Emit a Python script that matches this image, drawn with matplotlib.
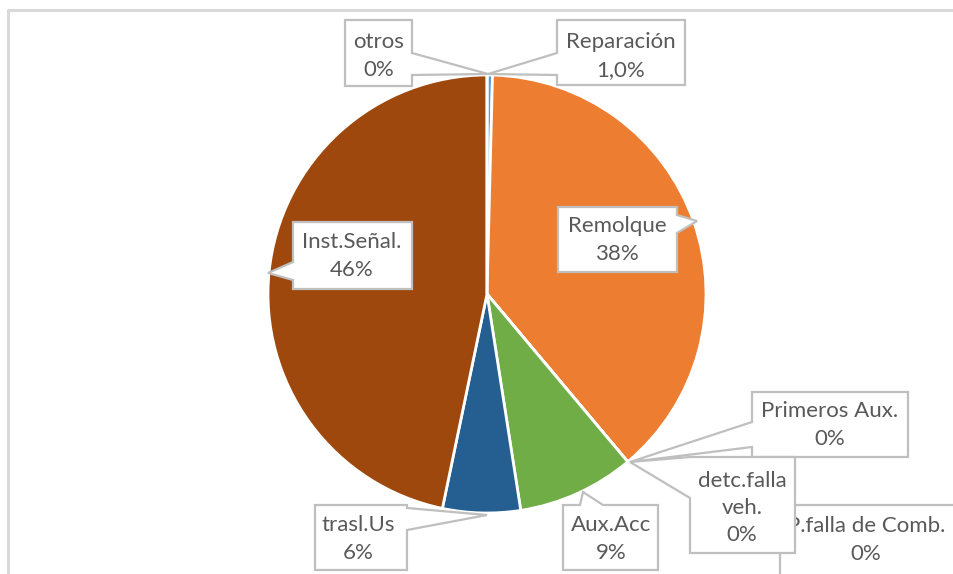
import matplotlib.pyplot as plt
from matplotlib.patches import Polygon

# datos (orden de los sectores, en sentido horario desde arriba)
categorias = ["Reparación", "Remolque", "Primeros Aux.", "detc.falla\nveh.",
              "P.falla de Comb.", "Aux.Acc", "trasl.Us", "Inst.Señal.", "otros"]
valores = [0.4, 38.3, 0, 0, 0, 8.6, 5.7, 46.5, 0]
porcentajes = ["1,0%", "38%", "0%", "0%", "0%", "9%", "6%", "46%", "0%"]
colores = ["#5B9BD5", "#ED7D31", "#A5A5A5", "#FFC000", "#4472C4",
           "#70AD47", "#255E91", "#9E480E", "#636363"]

W, H = 954, 574
fig = plt.figure(figsize=(W / 100, H / 100), dpi=100)
ax = fig.add_axes([0, 0, 1, 1])

ax.pie(valores, colors=colores, startangle=90, counterclock=False,
       center=(487, H - 294), radius=219, frame=True,
       wedgeprops=dict(edgecolor="white", linewidth=2))
ax.set_xlim(0, W)
ax.set_ylim(0, H)
ax.set_aspect("equal")
ax.axis("off")

# borde del area del grafico
ax.plot([8, 8, W + 5], [-5, H - 10, H - 10], color="#D9D9D9", lw=2.2, zorder=1)

# posiciones de las etiquetas (pixeles, y hacia abajo); el orden es el de dibujo
cajas = {
    "Reparación": ((621, 56), [(557, 20), (685, 20), (685, 85), (557, 85), (557, 75), (488, 74), (557, 53)]),
    "Remolque": ((617, 240), [(558, 207), (677, 207), (677, 215), (697, 221), (677, 233), (677, 272), (558, 272)]),
    "Primeros Aux.": ((830, 425), [(752, 392), (908, 392), (908, 457), (752, 457), (752, 447), (630, 462), (752, 422)]),
    "P.falla de Comb.": ((866, 540), [(780, 505), (960, 505), (960, 580), (780, 580)]),
    "detc.falla\nveh.": ((742, 508), [(690, 457), (795, 457), (795, 553), (690, 553), (690, 498), (630, 462)]),
    "Aux.Acc": ((611, 539), [(563, 505), (580, 505), (583, 492), (603, 505), (658, 505), (658, 570), (563, 570)]),
    "trasl.Us": ((358, 539), [(315, 505), (407, 505), (407, 508), (487, 515), (407, 530), (407, 570), (315, 570)]),
    "Inst.Señal.": ((352, 256), [(293, 222), (412, 222), (412, 289), (293, 289), (293, 280), (268, 273), (293, 262)]),
    "otros": ((379, 56), [(345, 20), (412, 20), (412, 53), (488, 74), (412, 75), (412, 86), (345, 86)]),
}

for k, cat in enumerate(cajas):
    i = categorias.index(cat)
    (tx, ty), pts = cajas[cat]
    pts = [(x, H - y) for x, y in pts]
    ax.add_patch(Polygon(pts, closed=True, facecolor="white", edgecolor="#BFBFBF",
                         lw=1.6, zorder=5 + k * 0.1))
    ax.text(tx, H - ty, cat + "\n" + porcentajes[i], ha="center", va="center",
            fontsize=16, family="Lato", color="#595959", linespacing=1.45,
            zorder=5.05 + k * 0.1)

fig.savefig("out.png", dpi=100)
